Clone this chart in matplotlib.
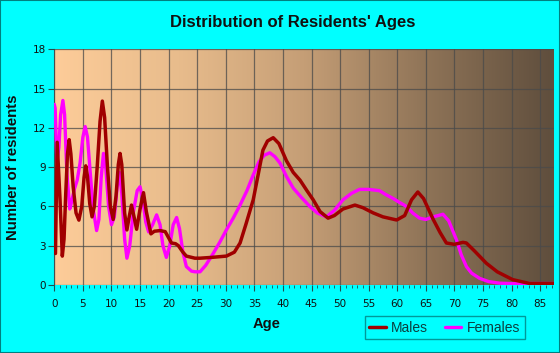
import numpy as np
import matplotlib
matplotlib.use("Agg")
import matplotlib.pyplot as plt
from matplotlib.colors import LinearSegmentedColormap
from matplotlib.patches import Rectangle

# values (age, number of residents)
male_age = [0.2, 0.5, 1.0, 1.4, 1.7, 2.0, 2.3, 2.6, 2.9, 3.3, 3.8, 4.3, 4.8, 5.2, 5.5, 5.8,
            6.2, 6.6, 7.0, 7.5, 8.0, 8.4, 8.8, 9.3, 9.8, 10.3, 10.8, 11.2, 11.5, 11.8, 12.3,
            12.7, 13.1, 13.5, 13.9, 14.4, 15.0, 15.6, 16.1, 16.9, 17.5, 18.5, 19.4, 20.0,
            20.5, 21.2, 21.7, 22.5, 23.1, 24.6, 25.5, 27.5, 30.1, 31.5, 32.5, 33.5, 34.8,
            35.7, 36.5, 37.3, 38.3, 39.3, 40.6, 41.8, 43.0, 44.2, 45.3, 46.5, 47.9, 49.0,
            50.5, 52.6, 54.0, 55.8, 57.5, 59.9, 61.3, 62.5, 63.6, 64.6, 66.3, 67.5, 68.6,
            70.0, 71.5, 72.1, 73.5, 75.6, 77.5, 80.2, 83.2, 87.4]
male_val = [2.4, 10.9, 6.5, 2.2, 3.5, 7.0, 10.0, 11.1, 10.0, 7.5, 5.5, 4.95, 6.0, 8.2, 9.1, 8.3,
            6.2, 5.2, 6.0, 9.0, 12.5, 14.05, 12.8, 9.0, 6.0, 5.0, 6.8, 9.2, 10.05, 9.2, 5.5,
            4.2, 5.2, 6.1, 5.3, 4.25, 5.8, 7.05, 5.6, 3.9, 4.1, 4.15, 4.07, 3.6,
            3.2, 3.15, 3.0, 2.5, 2.2, 2.04, 2.04, 2.1, 2.2, 2.5, 3.2, 4.6, 6.5,
            8.5, 10.3, 11.0, 11.25, 10.8, 9.5, 8.6, 8.0, 7.2, 6.5, 5.6, 5.1, 5.3,
            5.8, 6.1, 5.9, 5.5, 5.2, 4.96, 5.3, 6.5, 7.1, 6.6, 5.0, 4.0, 3.2,
            3.1, 3.25, 3.2, 2.6, 1.65, 1.0, 0.4, 0.1, 0.1]

female_age = [0.0, 0.15, 0.45, 0.8, 1.1, 1.5, 1.8, 2.2, 2.7, 3.0, 3.5, 4.0, 4.5, 5.0, 5.4, 5.8,
              6.3, 6.8, 7.4, 7.8, 8.2, 8.6, 9.0, 9.5, 10.0, 10.5, 11.0, 11.4, 11.8, 12.3,
              12.7, 13.2, 13.8, 14.5, 15.0, 15.5, 16.0, 16.5, 17.2, 17.9, 18.5, 19.0, 19.6,
              20.2, 20.8, 21.4, 21.9, 22.5, 23.1, 24.0, 24.6, 25.5, 26.5, 27.8, 29.0, 30.1,
              31.3, 32.5, 33.7, 34.8, 35.8, 36.7, 37.7, 38.6, 39.5, 40.6, 41.8, 43.2, 44.7,
              46.0, 47.6, 49.0, 50.5, 52.0, 53.4, 55.0, 56.9, 58.0, 59.3, 60.4, 61.6, 62.7,
              63.9, 65.0, 66.3, 68.0, 69.0, 70.4, 71.2, 72.1, 73.0, 74.4, 76.0, 77.9, 80.0, 87.4]
female_val = [13.8, 13.5, 9.4, 10.5, 13.0, 14.1, 13.0, 8.5, 5.8, 6.3, 7.3, 8.0, 9.3, 11.3, 12.1, 11.3,
              8.5, 5.8, 4.15, 5.0, 8.2, 10.05, 9.0, 6.0, 4.6, 5.2, 7.5, 8.6, 7.0, 3.5,
              2.04, 3.0, 5.5, 7.2, 7.5, 6.5, 4.8, 4.05, 4.6, 5.35, 4.6, 3.0, 2.1,
              3.0, 4.6, 5.15, 4.3, 2.5, 1.4, 1.05, 1.0, 1.0, 1.5, 2.4, 3.3, 4.2,
              5.1, 6.1, 7.2, 8.4, 9.4, 9.9, 10.1, 9.8, 9.3, 8.3, 7.4, 6.7, 6.0,
              5.5, 5.2, 5.7, 6.5, 7.0, 7.3, 7.3, 7.2, 6.9, 6.6, 6.3, 6.0, 5.5,
              5.1, 5.0, 5.2, 5.4, 4.9, 3.4, 2.3, 1.4, 0.9, 0.5, 0.25, 0.13, 0.1, 0.1]

x_ticks = list(range(0, 90, 5))
y_ticks = [0, 3, 6, 9, 12, 15, 18]

fig = plt.figure(figsize=(5.6, 3.53), dpi=100, facecolor="#00FFFF")
fig.patches.append(Rectangle((0, 0), 1, 1, transform=fig.transFigure, fill=False,
                             edgecolor="#008080", linewidth=1.5))
ax = fig.add_axes([0.097, 0.193, 0.892, 0.667])

xmax = 87.4
bg = LinearSegmentedColormap.from_list("bg", ["#FDCC99", "#E8BC8C", "#C59E76", "#8E7357", "#5F4E3D"])
ax.imshow(np.linspace(0, 1, 256).reshape(1, -1), cmap=bg, extent=[0, xmax, 0, 18],
          aspect="auto", zorder=0)

ax.plot(female_age, female_val, color="#FF00FF", lw=2.4, zorder=3, label="Females",
        solid_joinstyle="round", solid_capstyle="round")
ax.plot(male_age, male_val, color="#A00000", lw=2.5, zorder=4, label="Males",
        solid_joinstyle="round", solid_capstyle="round")

ax.set_xlim(0, xmax)
ax.set_ylim(0, 18)
ax.set_xticks(x_ticks)
ax.set_xticks(range(0, 88), minor=True)
ax.set_yticks(y_ticks)
ax.grid(True, which="major", color="#4a4a4a", lw=0.9, alpha=0.75)
ax.set_axisbelow(False)
for s in ax.spines.values():
    s.set_visible(False)
ax.spines["left"].set_visible(True)
ax.spines["left"].set_color("#2f5f5f")
ax.tick_params(axis="both", which="major", length=4, color="#1f4f4f", labelsize=7.5,
               labelcolor="#111111", pad=2)
ax.tick_params(axis="x", which="minor", length=2.5, color="#1f4f4f")
ax.tick_params(axis="x", pad=6)

fig.text(0.522, 0.935, "Distribution of Residents' Ages", ha="center", va="center",
         fontsize=12, fontweight="bold", family="Liberation Sans", color="#111111")
fig.text(0.476, 0.082, "Age", ha="center", va="center", fontsize=10.5,
         fontweight="bold", family="Liberation Sans", color="#111111")
fig.text(0.024, 0.527, "Number of residents", ha="center", va="center", rotation=90,
         fontsize=10.8, fontweight="bold", family="Liberation Sans", color="#111111")

h, l = ax.get_legend_handles_labels()
leg = fig.legend(h[::-1], l[::-1], loc="center", bbox_to_anchor=(0.794, 0.072), ncol=2,
                 frameon=True, fontsize=10, handlelength=1.2, handletextpad=0.4,
                 columnspacing=1.2, borderpad=0.3, fancybox=False)
leg.get_frame().set_facecolor("#00FFFF")
leg.get_frame().set_edgecolor("#008080")
leg.get_frame().set_linewidth(1.0)
for t in leg.get_texts():
    t.set_color("#0b3f3f")
    t.set_family("Liberation Sans")

fig.savefig("out.png", dpi=100, facecolor=fig.get_facecolor())
